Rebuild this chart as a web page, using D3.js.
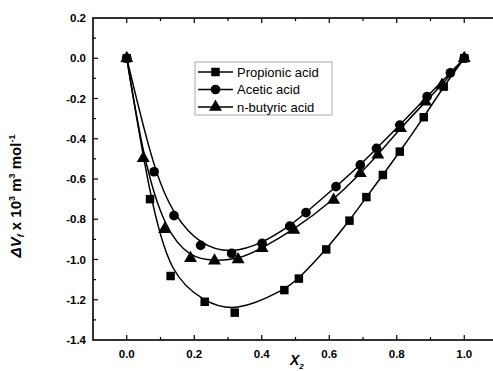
<!DOCTYPE html>
<html><head><meta charset="utf-8">
<script src="https://cdn.jsdelivr.net/npm/d3@7"></script>
<style>
body{margin:0;background:#fff;}
svg{display:block;font-family:"Liberation Sans",Arial,sans-serif;}
</style></head>
<body><svg id="c" width="493" height="371"></svg>
<script>
const xTicks = [0.0, 0.2, 0.4, 0.6, 0.8, 1.0];
const yTicks = [0.2, 0.0, -0.2, -0.4, -0.6, -0.8, -1.0, -1.2, -1.4];
const seriesNames = ["Propionic acid", "Acetic acid", "n-butyric acid"];
const propX = [0, 0.069, 0.130, 0.231, 0.320, 0.467, 0.510, 0.591, 0.660, 0.710, 0.759, 0.809, 0.880, 0.939, 1.0];
const propY = [0, -0.70, -1.082, -1.21, -1.264, -1.152, -1.095, -0.95, -0.807, -0.69, -0.58, -0.464, -0.293, -0.141, 0];
const aceX = [0, 0.081, 0.140, 0.219, 0.311, 0.401, 0.483, 0.531, 0.620, 0.692, 0.740, 0.809, 0.890, 0.959, 1.0];
const aceY = [0, -0.564, -0.782, -0.93, -0.97, -0.92, -0.834, -0.767, -0.638, -0.53, -0.448, -0.332, -0.19, -0.072, 0];
const butX = [0, 0.049, 0.112, 0.189, 0.260, 0.330, 0.401, 0.495, 0.613, 0.692, 0.744, 0.811, 0.885, 0.934, 1.0];
const butY = [0, -0.497, -0.85, -0.994, -1.006, -1.0, -0.944, -0.853, -0.704, -0.572, -0.48, -0.348, -0.216, -0.133, 0];

const svg = d3.select("#c");
const L = 93, R = 498, T = 18, B = 340;
const x = d3.scaleLinear().domain([-0.1, 1.1]).range([L, R]);
const y = d3.scaleLinear().domain([-1.4, 0.2]).range([B, T]);

// frame
svg.append("rect").attr("x", L).attr("y", T).attr("width", R - L).attr("height", B - T)
  .attr("fill", "none").attr("stroke", "#000").attr("stroke-width", 1.6);

const xMinor = d3.range(0, 11).map(i => i / 10);
const yMinor = d3.range(-13, 2).map(i => i / 10);
const g = svg.append("g").attr("stroke", "#000").attr("stroke-width", 1.2);
xMinor.forEach(v => {
  const major = Math.abs(Math.round(v * 10) % 2) === 0;
  const len = major ? 5 : 3;
  g.append("line").attr("x1", x(v)).attr("x2", x(v)).attr("y1", B).attr("y2", B - len);
  g.append("line").attr("x1", x(v)).attr("x2", x(v)).attr("y1", T).attr("y2", T + len);
});
yMinor.forEach(v => {
  const major = Math.abs(Math.round(v * 10) % 2) === 0;
  const len = major ? 5 : 3;
  g.append("line").attr("y1", y(v)).attr("y2", y(v)).attr("x1", L).attr("x2", L + len);
  g.append("line").attr("y1", y(v)).attr("y2", y(v)).attr("x1", R).attr("x2", R - len);
});

// tick labels
svg.append("g").selectAll("text").data(xTicks).join("text")
  .attr("x", d => x(d)).attr("y", B + 18).attr("text-anchor", "middle")
  .attr("font-size", 11.5).attr("font-weight", "bold").text(d => d.toFixed(1));
svg.append("g").selectAll("text").data(yTicks).join("text")
  .attr("x", L - 7).attr("y", d => y(d) + 4).attr("text-anchor", "end")
  .attr("font-size", 11.5).attr("font-weight", "bold").text(d => d.toFixed(1));

// axis titles
const xt = svg.append("text").attr("x", 290).attr("y", 365).attr("font-size", 14)
  .attr("font-weight", "bold").attr("font-style", "italic");
xt.append("tspan").text("X");
xt.append("tspan").attr("font-size", 8).attr("dy", 4).text("2");

const yt = svg.append("text").attr("transform", "translate(21,196) rotate(-90)")
  .attr("text-anchor", "middle").attr("font-size", 15).attr("font-weight", "bold");
yt.append("tspan").attr("font-style", "italic").text("\u0394V");
yt.append("tspan").attr("font-style", "italic").attr("font-size", 9).attr("dy", 3).text("f");
yt.append("tspan").attr("dy", -3).text(" x 10");
yt.append("tspan").attr("font-size", 9).attr("dy", -6).text("3");
yt.append("tspan").attr("dy", 6).text(" m");
yt.append("tspan").attr("font-size", 9).attr("dy", -6).text("3");
yt.append("tspan").attr("dy", 6).text(" mol");
yt.append("tspan").attr("font-size", 9).attr("dy", -6).text("-1");

// series
const series = [
  {name: seriesNames[0], xs: propX, ys: propY, sym: d3.symbolSquare, size: 72},
  {name: seriesNames[1], xs: aceX, ys: aceY, sym: d3.symbolCircle, size: 74},
  {name: seriesNames[2], xs: butX, ys: butY, sym: d3.symbolTriangle, size: 72}
];
const line = d3.line().x(d => x(d[0])).y(d => y(d[1])).curve(d3.curveBasis);
series.forEach(s => {
  const pts = s.xs.map((v, i) => [v, s.ys[i]]);
  svg.append("path").datum(pts).attr("d", line).attr("fill", "none")
    .attr("stroke", "#000").attr("stroke-width", 1.5);
  svg.append("g").selectAll("path").data(pts).join("path")
    .attr("transform", d => `translate(${x(d[0])},${y(d[1])})`)
    .attr("d", d3.symbol(s.sym, s.size)).attr("fill", "#000");
});

// legend
const lg = svg.append("g");
lg.append("rect").attr("x", 195).attr("y", 62).attr("width", 137).attr("height", 53)
  .attr("fill", "#fff").attr("stroke", "#aaa").attr("stroke-width", 1);
series.forEach((s, i) => {
  const yy = 72 + i * 17.5;
  lg.append("line").attr("x1", 198).attr("x2", 233).attr("y1", yy).attr("y2", yy)
    .attr("stroke", "#000").attr("stroke-width", 1.5);
  lg.append("path").attr("transform", `translate(215.5,${yy})`)
    .attr("d", d3.symbol(s.sym, s.size)).attr("fill", "#000");
  lg.append("text").attr("x", 237).attr("y", yy + 4.5).attr("font-size", 13).text(s.name);
});
</script></body></html>
